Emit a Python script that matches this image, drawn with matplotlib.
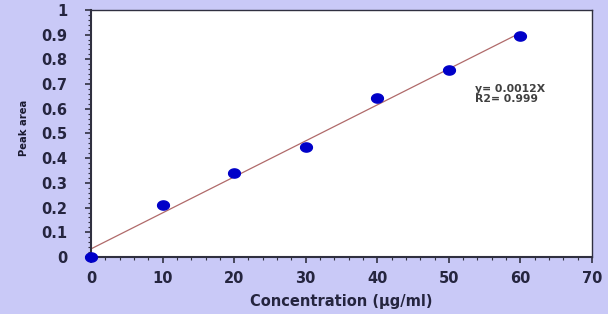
import numpy as np
import matplotlib.pyplot as plt
from matplotlib.path import Path
from matplotlib.ticker import MultipleLocator

# calibration data
conc = [0, 10, 20, 30, 40, 50, 60]
peak_area = [0.0, 0.21, 0.34, 0.445, 0.645, 0.755, 0.895]
eq_text = "y= 0.0012X\nR2= 0.999"

fig = plt.figure(figsize=(6.08, 3.14), dpi=100, facecolor='#c9c9f7')
ax = fig.add_axes([0.1497, 0.1815, 0.824, 0.787])
ax.set_facecolor('white')

# linear trend line
slope, intercept = np.polyfit(conc, peak_area, 1)
xs = np.array([conc[0], conc[-1]])
ax.plot(xs, slope * xs + intercept, color='#b06a6a', lw=0.9, zorder=2)

# slightly flattened dot marker
t = np.linspace(0, 2 * np.pi, 40)
ellipse = Path(np.c_[np.cos(t), 0.78 * np.sin(t)], closed=True)
ax.plot(conc, peak_area, ls='none', marker=ellipse, color='#0000c8', ms=8.5,
        clip_on=False, zorder=3)

ax.text(53.7, 0.70, eq_text, fontsize=7.8, fontweight='bold', color='#404040',
        linespacing=0.95, va='top')

ax.set_xlim(0, 70)
ax.set_ylim(0, 1)
ax.xaxis.set_major_locator(MultipleLocator(10))
ax.xaxis.set_minor_locator(MultipleLocator(2))
ax.yaxis.set_major_locator(MultipleLocator(0.1))
ax.yaxis.set_minor_locator(MultipleLocator(0.02))
ax.yaxis.set_major_formatter(plt.FuncFormatter(lambda v, p: f"{v:g}"))

for s in ax.spines.values():
    s.set_color('#303040')
    s.set_linewidth(1.0)
ax.spines['left'].set_linewidth(1.5)
ax.spines['bottom'].set_linewidth(1.5)

ax.tick_params(which='major', length=4, width=1.2, color='#303040', direction='out',
               labelsize=10.5, labelcolor='#25253f')
ax.tick_params(which='minor', length=2.5, width=0.8, color='#303040', direction='out')
ax.tick_params(axis='y', pad=13)
ax.tick_params(axis='x', pad=6)
for lbl in ax.get_xticklabels() + ax.get_yticklabels():
    lbl.set_fontweight('bold')

ax.set_xlabel('Concentration (µg/ml)', fontsize=10.5, fontweight='bold', color='#25253f')
ax.xaxis.set_label_coords(0.5, -0.15)
ax.set_ylabel('Peak area', fontsize=8, fontweight='bold', color='#1a1a30',
              fontstretch='condensed')
ax.yaxis.set_label_coords(-0.124, 0.522)

fig.savefig('out.png', dpi=100, facecolor=fig.get_facecolor())
